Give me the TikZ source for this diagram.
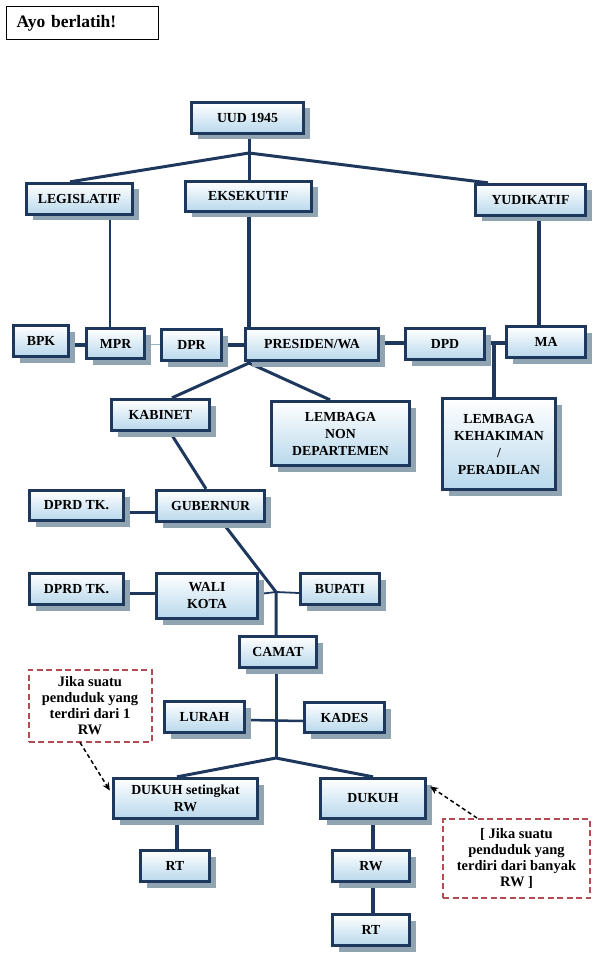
\documentclass[tikz,border=0pt]{standalone}
\usepackage{fontspec}
\setmainfont{Liberation Serif}
\usetikzlibrary{shadows,backgrounds,arrows.meta}
\definecolor{navy}{RGB}{30,55,92}
\definecolor{boxbot}{RGB}{184,216,236}
\definecolor{shad}{RGB}{145,164,178}
\definecolor{dashred}{RGB}{178,76,82}
\definecolor{faintline}{RGB}{150,180,200}
\tikzset{
  orgbox/.style={draw=navy, line width=3.3pt, top color=white, bottom color=boxbot,
    drop shadow={shadow xshift=6pt, shadow yshift=-6pt, fill=shad, opacity=1},
    font=\fontsize{13.8}{17}\selectfont\bfseries, align=center, inner sep=1pt, text=black},
  notebox/.style={draw=dashred, line width=2pt, dash pattern=on 6pt off 3.5pt, fill=white,
    font=\fontsize{14.5}{16}\selectfont\bfseries, align=center, inner sep=1pt, text=black},
  connthick/.style={draw=navy, line width=4pt},
  conn/.style={draw=navy, line width=3pt},
  connmid/.style={draw=navy, line width=2.5pt},
  connthin/.style={draw=navy, line width=1.8pt},
  connfaint/.style={draw=faintline, line width=1pt},
  dasharrow/.style={draw=black, line width=1.5pt, dash pattern=on 4pt off 3pt, -{Stealth[length=8pt,width=7pt]}},
}
\newcommand\orgnode[7][]{\node[orgbox,#1,minimum width={(#5-#3-3)*1pt},minimum height={(#6-#4-3)*1pt}] (#2) at ({(#3+#5)/2},{(#4+#6)/2}) {#7};}
\begin{document}
\begin{tikzpicture}[x=1pt,y=-1pt]
\useasboundingbox (0,0) rectangle (610,965);
\begin{scope}[on background layer]
  \fill[white] (0,0) rectangle (610,965);
\end{scope}

\node[draw=black, line width=1pt, minimum width=152pt, minimum height=33pt, inner xsep=10pt,
  text width=132pt, align=left, font=\fontsize{17.5}{19}\selectfont\bfseries] (ayo) at (82.5,23) {Ayo berlatih!};

\orgnode{uud}{190}{101}{305}{135}{UUD 1945}
\orgnode{legis}{25}{182}{134}{216}{LEGISLATIF}
\orgnode{eksek}{184}{180}{313}{213}{EKSEKUTIF}
\orgnode{yudi}{474}{183}{587}{217}{YUDIKATIF}
\orgnode{bpk}{12}{324}{70}{358}{BPK}
\orgnode{mpr}{85}{327}{146}{360}{MPR}
\orgnode{dpr}{160}{328}{223}{362}{DPR}
\orgnode{pres}{244}{327}{380}{362}{PRESIDEN/WA}
\orgnode{dpd}{404}{327}{486}{361}{DPD}
\orgnode{ma}{505}{325}{587}{359}{MA}
\orgnode{kab}{110}{398}{211}{432}{KABINET}
\orgnode{lnon}{270}{400}{411}{467}{LEMBAGA\\NON\\DEPARTEMEN}
\orgnode{lkeh}{441}{397}{557}{491}{LEMBAGA\\KEHAKIMAN\\/\\PERADILAN}
\orgnode{dprda}{28}{489}{125}{522}{DPRD TK.}
\orgnode{gub}{155}{489}{266}{523}{GUBERNUR}
\orgnode{dprdb}{28}{572}{125}{606}{DPRD TK.}
\orgnode{wali}{155}{572}{259}{620}{WALI\\KOTA}
\orgnode{bupati}{299}{572}{381}{606}{BUPATI}
\orgnode{camat}{238}{635}{318}{669}{CAMAT}
\orgnode{lurah}{163}{700}{246}{734}{LURAH}
\orgnode{kades}{303}{701}{386}{734}{KADES}
\orgnode{dukset}{112}{777}{259}{820}{DUKUH setingkat\\RW}
\orgnode{dukuh}{319}{777}{427}{820}{DUKUH}
\orgnode{rta}{139}{849}{211}{883}{RT}
\orgnode{rw}{331}{849}{411}{883}{RW}
\orgnode{rtb}{331}{913}{411}{947}{RT}

\node[notebox, minimum width=123pt, minimum height=72pt] (notea) at (90,705.5)
  {Jika suatu\\penduduk yang\\terdiri dari 1\\RW};
\node[notebox, minimum width=147pt, minimum height=79pt] (noteb) at (516.5,858.5)
  {[ Jika suatu\\penduduk yang\\terdiri dari banyak\\RW ]};

\coordinate (ja) at (249,153);
\coordinate (jb) at (494,343);
\coordinate (jc) at (249,363);
\coordinate (jd) at (276,592);
\coordinate (je) at (276,758);

\begin{scope}[on background layer]
  \draw[conn] (ja |- uud.south) -- (ja) -- (ja |- eksek.north);
  \draw[conn] (70,0 |- legis.north) -- (ja) -- (488,0 |- yudi.north);
  \draw[connmid] (110,0 |- legis.south) -- (110,0 |- mpr.north);
  \draw[connthick] (249,0 |- eksek.south) -- (249,0 |- pres.north);
  \draw[connthick] (539,0 |- yudi.south) -- (539,0 |- ma.north);
  \draw[connthick] (bpk.east |- 0,345) -- (mpr.west |- 0,345);
  \draw[connfaint] (mpr.east |- 0,344) -- (dpr.west |- 0,344);
  \draw[connthick] (dpr.east |- 0,345) -- (pres.west |- 0,345);
  \draw[connthick] (pres.east |- 0,343) -- (dpd.west |- 0,343);
  \draw[connthick] (dpd.east |- jb) -- (ma.west |- jb);
  \draw[connthick] (jb) -- (jb |- lkeh.north);
  \draw[conn] (172,0 |- kab.north) -- (jc) -- (330,0 |- lnon.north);
  \draw[conn] (170,0 |- kab.south) -- (206,0 |- gub.north);
  \draw[conn] (dprda.east |- 0,512) -- (gub.west |- 0,512);
  \draw[conn] (223,0 |- gub.south) -- (jd) -- (jd |- camat.north);
  \draw[connthin] (wali.east |- 0,594) -- (jd) -- (bupati.west |- 0,593);
  \draw[conn] (dprdb.east |- 0,593) -- (wali.west |- 0,593);
  \draw[conn] (je |- camat.south) -- (je);
  \draw[connmid] (lurah.east |- 0,720) -- (kades.west |- 0,721);
  \draw[conn] (177,0 |- dukset.north) -- (je) -- (373,0 |- dukuh.north);
  \draw[connthick] (177,0 |- dukset.south) -- (177,0 |- rta.north);
  \draw[connthick] (373,0 |- dukuh.south) -- (373,0 |- rw.north);
  \draw[connthick] (373,0 |- rw.south) -- (373,0 |- rtb.north);
\end{scope}

\draw[dasharrow] (80,0 |- notea.south) -- ([shift={(-2pt,8pt)}]dukset.west);
\draw[dasharrow] (477,0 |- noteb.north) -- ([shift={(3pt,12pt)}]dukuh.east);
\end{tikzpicture}
\end{document}
